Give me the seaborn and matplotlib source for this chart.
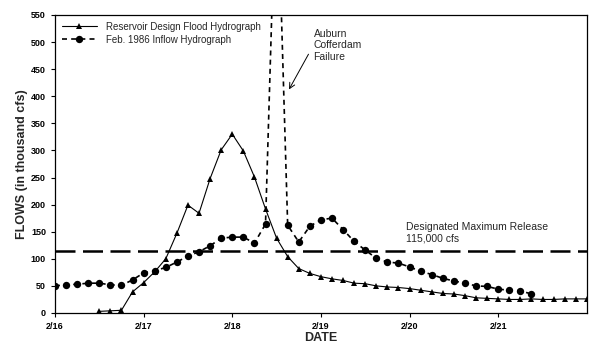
import numpy as np
import pandas as pd
import seaborn as sns
import matplotlib.pyplot as plt

# Data (flows in thousand cfs, time in hours after 2/16 00:00, 3-hour steps)
design_hours = np.arange(12, 145, 3)
design_flow = [3, 4, 5, 39, 56, 76, 100, 147, 199, 184, 248, 301, 330, 299, 251,
               192, 138, 104, 82, 73, 67, 63, 60, 55, 54, 50, 48, 47, 45, 42,
               39, 36, 35, 32, 28, 27, 26, 25, 25, 26, 25, 25, 26, 26, 26]

inflow_hours = np.arange(0, 132, 3)
inflow_flow = [50, 52, 53, 55, 55, 52, 51, 61, 74, 78, 84, 94, 105, 113, 124,
               138, 140, 140, 129, 164, 850, 162, 131, 160, 172, 175, 154, 132,
               116, 101, 94, 92, 85, 77, 71, 64, 59, 55, 50, 49, 44, 42, 41, 35]

max_release = 115
date_ticks = [0, 24, 48, 72, 96, 120]
date_labels = ["2/16", "2/17", "2/18", "2/19", "2/20", "2/21"]

design = pd.DataFrame({"hours": design_hours, "flow": design_flow})
inflow = pd.DataFrame({"hours": inflow_hours, "flow": inflow_flow})

sns.set_style("ticks")
plt.rcParams['font.family'] = ['Liberation Sans', 'DejaVu Sans']

fig = plt.figure(figsize=(5.91, 3.43), dpi=100)
ax = fig.add_axes([0.093, 0.0875, 0.9, 0.869])

sns.lineplot(data=design, x="hours", y="flow", ax=ax, color="black",
             linewidth=0.8, marker="^", markersize=4.8, markeredgewidth=0,
             label="Reservoir Design Flood Hydrograph")
sns.lineplot(data=inflow, x="hours", y="flow", ax=ax, color="black",
             linewidth=1.2, linestyle=(0, (3, 2.5)), marker="o", markersize=5.3,
             markeredgewidth=0, label="Feb. 1986 Inflow Hydrograph")

# designated maximum release
ax.axhline(max_release, color="black", linewidth=1.8, linestyle=(0, (8, 3)))

ax.set_xlim(0, 144)
ax.set_ylim(0, 550)
ax.set_xticks(date_ticks)
ax.set_xticklabels(date_labels)
ax.set_yticks(np.arange(0, 551, 50))
ax.tick_params(labelsize=6.5, length=3, width=0.8, colors="black")
for lab in ax.get_xticklabels() + ax.get_yticklabels():
    lab.set_fontweight("bold")

ax.set_xlabel("DATE", fontsize=9, fontweight="bold", labelpad=1)
ax.set_ylabel("FLOWS (in thousand cfs)", fontsize=9, fontweight="bold", labelpad=2)

for side in ["top", "right", "bottom", "left"]:
    ax.spines[side].set_visible(True)
    ax.spines[side].set_color("black")
    ax.spines[side].set_linewidth(0.9)

ax.text(95, 128, "Designated Maximum Release\n115,000 cfs", fontsize=7.5,
        ha="left", va="bottom", linespacing=1.2)
ax.text(70, 463, "Auburn\nCofferdam\nFailure", fontsize=7.5,
        ha="left", va="bottom", linespacing=1.2)
ax.annotate("", xy=(63, 408), xytext=(69, 482),
            arrowprops=dict(arrowstyle="->", color="black", lw=0.7))

ax.legend(loc="upper left", frameon=False, fontsize=7, handlelength=3.6,
          borderaxespad=0.3, labelspacing=0.3, handletextpad=1.0)

fig.savefig("out.png", dpi=100)
